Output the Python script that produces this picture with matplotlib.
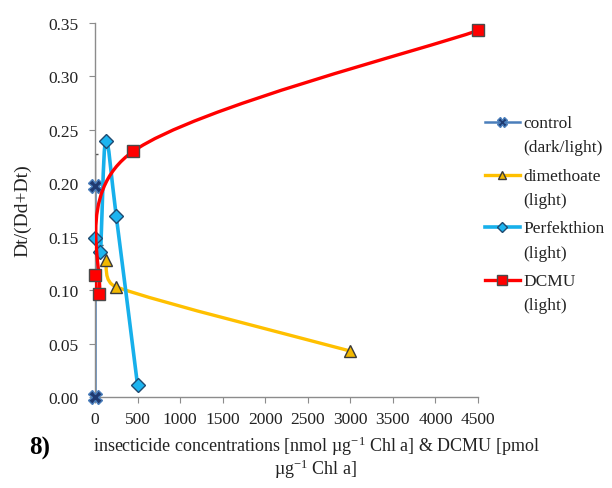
import numpy as np
import matplotlib
matplotlib.use("Agg")
import matplotlib.pyplot as plt
from matplotlib.path import Path
from matplotlib.patches import PathPatch
from matplotlib.lines import Line2D
from matplotlib.legend_handler import HandlerLine2D

plt.rcParams['font.family'] = ['Liberation Serif', 'DejaVu Serif']
plt.rcParams['mathtext.fontset'] = 'custom'
plt.rcParams['mathtext.rm'] = 'Liberation Serif'
plt.rcParams['mathtext.default'] = 'regular'

# ── data ──
control_x = [0, 0]
control_y = [0.197, 0.0]
control_err = [0.030, 0.0]

dimethoate_x = [125, 250, 3000]
dimethoate_y = [0.128, 0.103, 0.043]

perfekthion_x = [0, 62.5, 125, 250, 500]
perfekthion_y = [0.149, 0.136, 0.240, 0.169, 0.011]
perfekthion_err = [0.0, 0.006, 0.0, 0.0, 0.0]

dcmu_x = [4.5, 45, 450, 4500]
dcmu_y = [0.114, 0.096, 0.230, 0.343]

y_ticks = [0.00, 0.05, 0.10, 0.15, 0.20, 0.25, 0.30, 0.35]
x_ticks = [0, 500, 1000, 1500, 2000, 2500, 3000, 3500, 4000, 4500]

labels = ['control\n(dark/light)', 'dimethoate\n(light)',
          'Perfekthion\n(light)', 'DCMU\n(light)']

FS = 12.5


def smooth_path(ax, xs, ys):
    """Bezier path through the points, spreadsheet-style smoothing.

    Control arms are (next - prev)/6, capped at half the segment length,
    computed in screen space so the shape follows the drawn aspect.
    """
    pts = ax.transData.transform(np.column_stack([xs, ys]))
    n = len(pts)
    verts = [pts[0]]
    codes = [Path.MOVETO]
    for i in range(n - 1):
        p0 = pts[i - 1] if i > 0 else pts[i]
        p1, p2 = pts[i], pts[i + 1]
        p3 = pts[i + 2] if i + 2 < n else pts[i + 1]
        half = np.hypot(*(p2 - p1)) / 2
        a1 = (p2 - p0) / 6
        a2 = (p3 - p1) / 6
        for a in (a1, a2):
            la = np.hypot(*a)
            if la > half:
                a *= half / la
        verts += [p1 + a1, p2 - a2, p2]
        codes += [Path.CURVE4] * 3
    verts = ax.transData.inverted().transform(np.array(verts))
    return Path(verts, codes)


class FirstLineHandler(HandlerLine2D):
    """Legend handle aligned with the first line of a two-line label."""
    shift = 18.5

    def create_artists(self, legend, orig_handle, xdescent, ydescent,
                       width, height, fontsize, trans):
        return super().create_artists(legend, orig_handle, xdescent,
                                      ydescent - self.shift, width, height,
                                      fontsize, trans)


fig = plt.figure(figsize=(6.12, 4.89), dpi=100)
ax = fig.add_axes([95 / 612, 1 - 398 / 489, (478 - 95) / 612, (398 - 24) / 489])
ax.set_xlim(0, 4500)
ax.set_ylim(0, 0.35)

for s in ['top', 'right']:
    ax.spines[s].set_visible(False)
for s in ['left', 'bottom']:
    ax.spines[s].set_color('#8c8c8c')
    ax.spines[s].set_linewidth(1.0)

ax.set_xticks(x_ticks)
ax.set_yticks(y_ticks)
ax.set_yticklabels([f'{v:.2f}' for v in y_ticks])
ax.tick_params(axis='both', direction='out', length=4, color='#8c8c8c',
               labelsize=FS, labelcolor='#222222')
ax.tick_params(axis='y', pad=8)
ax.tick_params(axis='x', pad=6)

series = [
    dict(x=control_x, y=control_y, color='#4a7ebb', lw=1.8, marker='X', ms=9.5,
         mfc='#1f3a70', mec='#4a7ebb', smooth=False),
    dict(x=dimethoate_x, y=dimethoate_y, color='#ffc000', lw=2.4, marker='^', ms=8.5,
         mfc='#f2b800', mec='#3a3a3a', smooth=True),
    dict(x=perfekthion_x, y=perfekthion_y, color='#17b0eb', lw=2.6, marker='D', ms=7,
         mfc='#1cb4f0', mec='#1f4a70', smooth=True),
    dict(x=dcmu_x, y=dcmu_y, color='#ff0000', lw=2.4, marker='s', ms=9,
         mfc='#ff0000', mec='#4a4a4a', smooth=True),
]

# error bars on the control and the second Perfekthion point
ax.errorbar(control_x, control_y, yerr=[np.zeros(2), control_err], fmt='none',
            ecolor='#555555', elinewidth=1, capsize=2.5, zorder=1)
ax.errorbar(perfekthion_x, perfekthion_y, yerr=[np.zeros(5), perfekthion_err],
            fmt='none', ecolor='#333333', elinewidth=1, capsize=2.5, zorder=1)

handles = []
for k, s in enumerate(series):
    z = 2 + 2 * k
    if s['smooth']:
        ax.add_patch(PathPatch(smooth_path(ax, s['x'], s['y']), fill=False,
                               edgecolor=s['color'], lw=s['lw'], zorder=z,
                               capstyle='round', joinstyle='round'))
    else:
        ax.plot(s['x'], s['y'], color=s['color'], lw=s['lw'], zorder=z)
    ax.plot(s['x'], s['y'], ls='none', marker=s['marker'], ms=s['ms'],
            mfc=s['mfc'], mec=s['mec'], mew=1.0, zorder=z + 1, clip_on=False)
    handles.append(Line2D([], [], color=s['color'], lw=s['lw'], marker=s['marker'],
                          ms=s['ms'] * 0.75, mfc=s['mfc'], mec=s['mec'], mew=1.0))

leg = fig.legend(handles, labels, loc='upper left',
                 bbox_to_anchor=(485 / 612, 1 - 116 / 489),
                 frameon=False, fontsize=FS, handlelength=2.0, handletextpad=0.2,
                 labelspacing=0.7, borderaxespad=0, borderpad=0,
                 labelcolor='#222222',
                 handler_map={Line2D: FirstLineHandler()})
for t in leg.get_texts():
    t.set_linespacing(1.7)

ax.set_ylabel('Dt/(Dd+Dt)', fontsize=14, color='#222222')
ax.yaxis.set_label_coords(-0.165, 0.5)

fig.text(40 / 612, 1 - 448 / 489, '8)', fontsize=18, fontweight='bold',
         ha='center', va='center')
fig.text(316 / 612, 1 - 458 / 489,
         'insecticide concentrations [nmol µg$^{-1}$ Chl a] & DCMU [pmol\n'
         'µg$^{-1}$ Chl a]',
         fontsize=13, ha='center', va='center', linespacing=1.0, color='#222222',
         multialignment='center')

fig.savefig('out.png', dpi=100)
